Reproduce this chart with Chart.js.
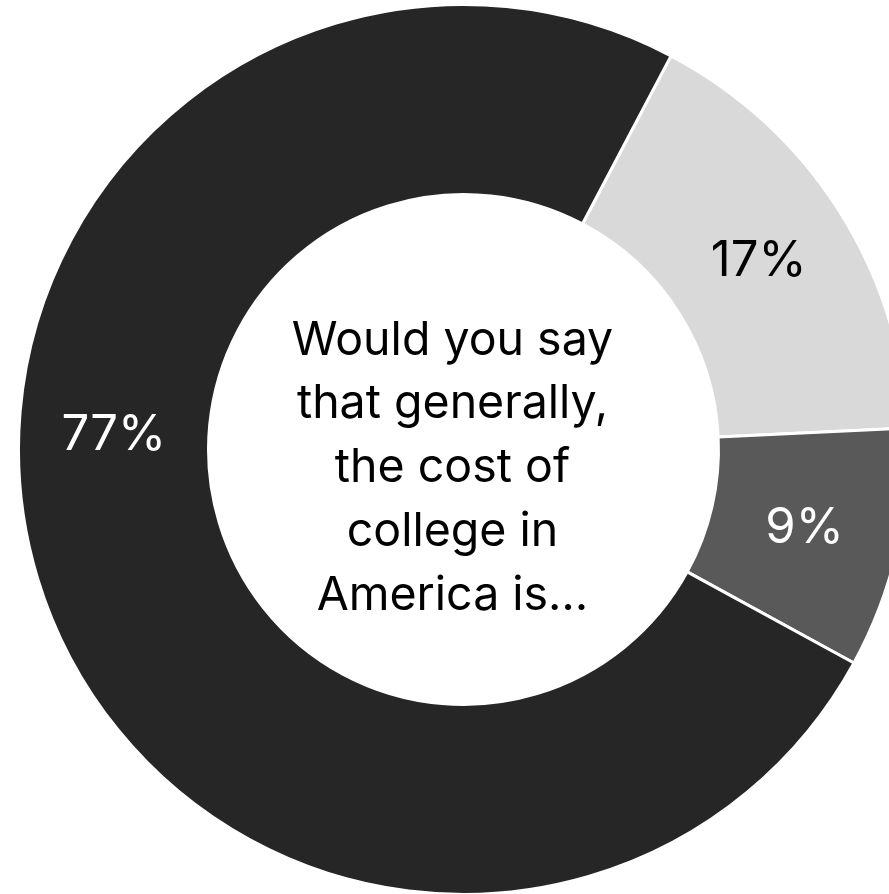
<!DOCTYPE html>
<html>
<head>
<meta charset="utf-8">
<script src="https://cdn.jsdelivr.net/npm/chart.js@4"></script>
<style>
  html, body { margin: 0; padding: 0; background: #fff; overflow: hidden; }
  #wrap { width: 927px; height: 894px; overflow: hidden; }
</style>
</head>
<body>
<div id="wrap"><canvas id="costChart" width="927" height="896"></canvas></div>
<script>
// Data
const categories = ["Reasonable", "Somewhat high", "Too high"];
const shares = [17, 9, 77];
const sliceColors = ["#d9d9d9", "#595959", "#262626"];
const labelColors = ["#000000", "#ffffff", "#ffffff"];
const centerLines = ["Would you say", "that generally,", "the cost of", "college in", "America is\u2026"];

const FONT = "Inter, 'Noto Sans', sans-serif";

// draws % labels on the ring + question in the hole
const ringText = {
  id: "ringText",
  afterDatasetsDraw(chart, args, opts) {
    const ctx = chart.ctx;
    const meta = chart.getDatasetMeta(0);
    ctx.save();
    ctx.textAlign = "center";
    ctx.textBaseline = "middle";
    ctx.font = "49px " + FONT;
    meta.data.forEach((arc, i) => {
      const p = arc.getProps(["x", "y", "startAngle", "endAngle", "innerRadius", "outerRadius"], true);
      let ang = (p.startAngle + p.endAngle) / 2;
      if (opts.angleOverride && opts.angleOverride[i] !== undefined) {
        ang = opts.angleOverride[i] * Math.PI / 180;
      }
      const r = (p.innerRadius + p.outerRadius) / 2;
      ctx.fillStyle = labelColors[i];
      ctx.fillText(Math.round(shares[i]) + "%", p.x + Math.cos(ang) * r, p.y + Math.sin(ang) * r);
    });

    // centre question
    const a0 = meta.data[0];
    ctx.fillStyle = "#000";
    ctx.textBaseline = "alphabetic";
    ctx.font = "46.5px " + FONT;
    const lh = 63.75;
    centerLines.forEach((line, i) => {
      ctx.fillText(line, a0.x + opts.textDx, a0.y + opts.textDy + (i - 2) * lh);
    });
    ctx.restore();
  }
};

new Chart(document.getElementById("costChart"), {
  type: "doughnut",
  data: {
    labels: categories,
    datasets: [{
      data: shares,
      backgroundColor: sliceColors,
      borderColor: "#ffffff",
      borderWidth: 3,
      hoverOffset: 0
    }]
  },
  options: {
    responsive: false,
    animation: false,
    events: [],
    rotation: 27.8,
    cutout: "57.3%",
    layout: { padding: { top: 3, bottom: 0, left: 0, right: 0 } },
    plugins: {
      legend: { display: false },
      tooltip: { enabled: false },
      ringText: { angleOverride: { 2: 182.3 }, textDx: -11, textDy: 32.5 }
    }
  },
  plugins: [ringText]
});
</script>
</body>
</html>
